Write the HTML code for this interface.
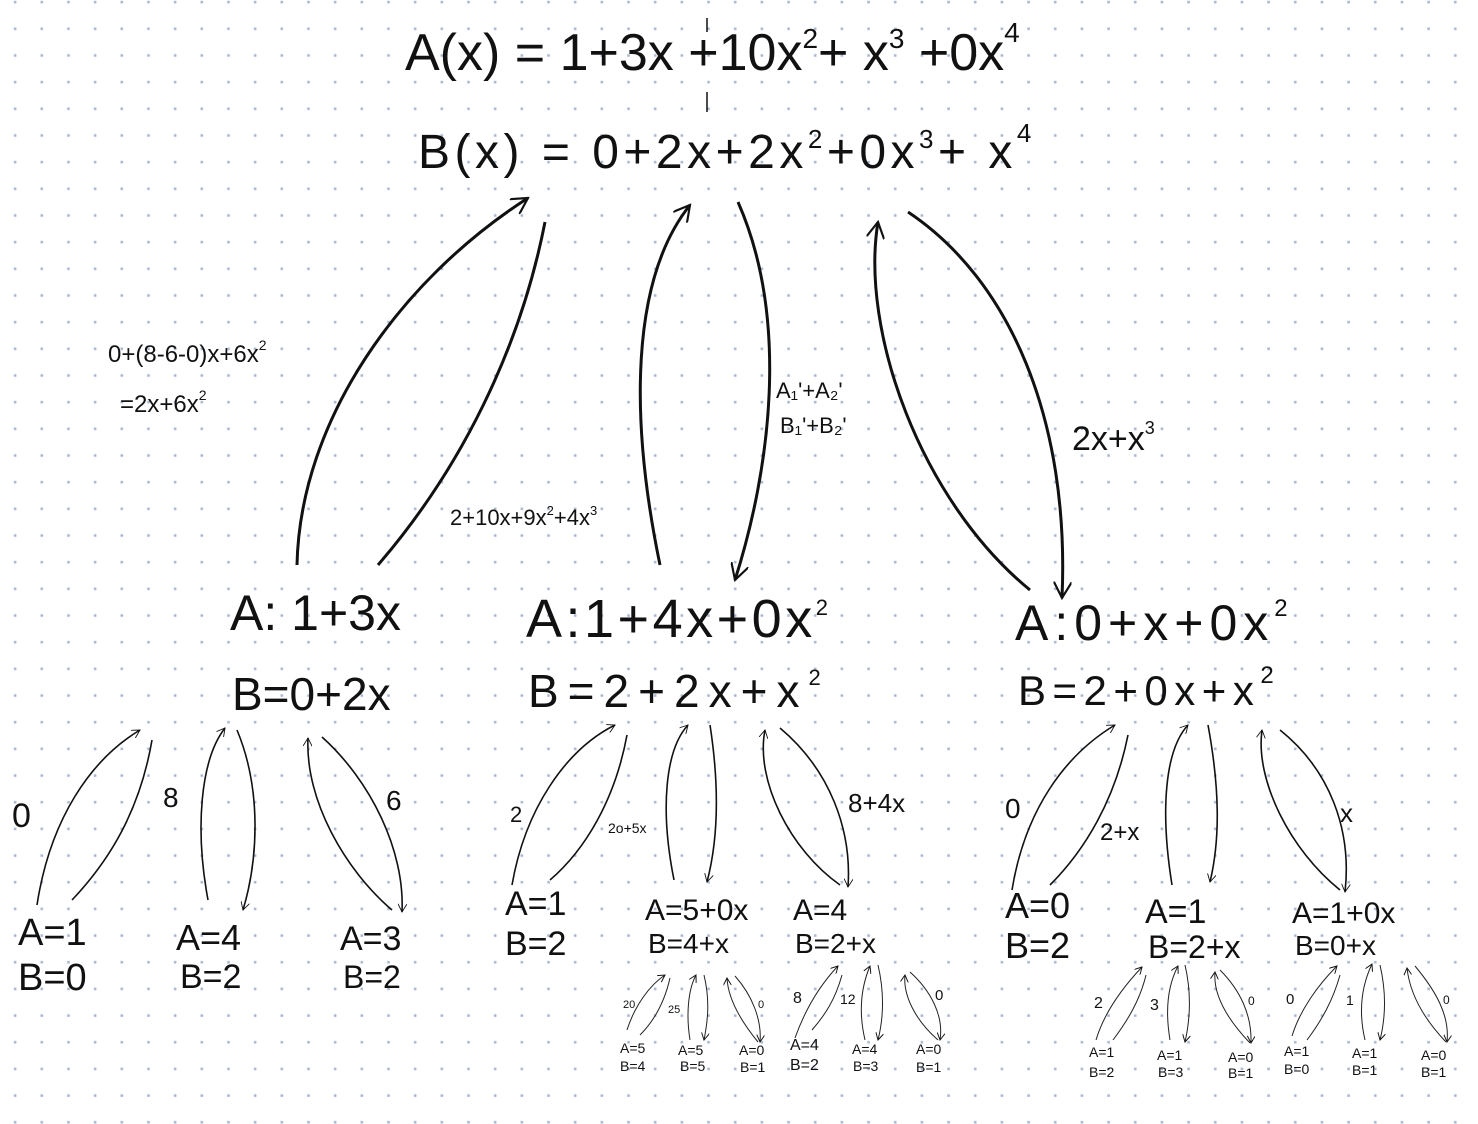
<!DOCTYPE html>
<html><head><meta charset="utf-8"><style>
html,body{margin:0;padding:0;background:#fff}
svg{display:block}
text{font-family:"Liberation Sans",sans-serif;fill:#111}
</style></head><body>
<svg width="1478" height="1124" viewBox="0 0 1478 1124" xmlns="http://www.w3.org/2000/svg">
<defs>
<pattern id="dots" x="15" y="2" width="26.67" height="26.67" patternUnits="userSpaceOnUse">
<rect x="-1.2" y="-1.2" width="2.6" height="2.6" fill="#a9b7d2"/>
<rect x="25.5" y="-1.2" width="2.6" height="2.6" fill="#a9b7d2"/>
<rect x="-1.2" y="25.5" width="2.6" height="2.6" fill="#a9b7d2"/>
<rect x="25.5" y="25.5" width="2.6" height="2.6" fill="#a9b7d2"/>
</pattern>
<marker id="ab" viewBox="0 0 10 10" refX="9" refY="5" markerWidth="9" markerHeight="9" orient="auto" markerUnits="userSpaceOnUse"><path d="M0,0 L9,5 L0,10" fill="none" stroke="#111" stroke-width="1"/></marker>
<marker id="am" viewBox="0 0 10 10" refX="9" refY="5" markerWidth="18" markerHeight="18" orient="auto" markerUnits="userSpaceOnUse"><path d="M0,0 L9,5 L0,10" fill="none" stroke="#111" stroke-width="1.2"/></marker>
<marker id="as" viewBox="0 0 10 10" refX="9" refY="5" markerWidth="8" markerHeight="8" orient="auto" markerUnits="userSpaceOnUse"><path d="M0,0 L9,5 L0,10" fill="none" stroke="#111" stroke-width="1.2"/></marker>
</defs>
<rect width="1478" height="1124" fill="url(#dots)"/>

<!-- top formulas -->
<text x="405" y="70" font-size="52">A(x) = 1+3x +10x<tspan font-size="28" dy="-22">2</tspan><tspan dy="22">+ x</tspan><tspan font-size="28" dy="-22">3</tspan><tspan dy="22"> +0x</tspan><tspan font-size="28" dy="-28">4</tspan></text>
<path d="M707,18 L707,32 M707,92 L707,112" stroke="#111" stroke-width="1.5"/>
<text x="418" y="168" font-size="48" letter-spacing="4.5">B(x) = 0+2x+2x<tspan font-size="26" dy="-20">2</tspan><tspan dy="20">+0x</tspan><tspan font-size="26" dy="-20">3</tspan><tspan dy="20">+ x</tspan><tspan font-size="26" dy="-26">4</tspan></text>

<!-- big arrows -->
<g fill="none" stroke="#111" stroke-width="3">
<path d="M297,565 C300,420 400,280 528,198" marker-end="url(#am)"/>
<path d="M545,222 C520,350 460,470 378,565"/>
<path d="M660,565 C630,420 630,280 690,205" marker-end="url(#am)"/>
<path d="M738,202 C790,320 770,470 735,580" marker-end="url(#am)"/>
<path d="M1030,590 C920,500 860,330 878,222" marker-end="url(#am)"/>
<path d="M908,212 C1010,280 1070,420 1062,598" marker-end="url(#am)"/>
</g>

<!-- labels on big arrows -->
<text x="108" y="362" font-size="24">0+(8-6-0)x+6x<tspan font-size="14" dy="-12">2</tspan></text>
<text x="120" y="412" font-size="24">=2x+6x<tspan font-size="14" dy="-12">2</tspan></text>
<text x="450" y="525" font-size="22">2+10x+9x<tspan font-size="13" dy="-10">2</tspan><tspan dy="10">+4x</tspan><tspan font-size="13" dy="-10">3</tspan></text>
<text x="776" y="398" font-size="22">A₁'+A₂'</text>
<text x="780" y="433" font-size="22">B₁'+B₂'</text>
<text x="1072" y="450" font-size="34">2x+x<tspan font-size="18" dy="-16">3</tspan></text>

<!-- middle nodes -->
<text x="230" y="630" font-size="50">A: 1+3x</text>
<text x="232" y="710" font-size="46">B=0+2x</text>
<text x="526" y="637" font-size="54" letter-spacing="3.5">A:1+4x+0x<tspan font-size="22" dy="-22">2</tspan></text>
<text x="528" y="707" font-size="46" letter-spacing="9">B=2+2x+x<tspan font-size="22" dy="-22">2</tspan></text>
<text x="1015" y="640" font-size="50" letter-spacing="6">A:0+x+0x<tspan font-size="24" dy="-24">2</tspan></text>
<text x="1018" y="705" font-size="42" letter-spacing="6.5">B=2+0x+x<tspan font-size="24" dy="-22">2</tspan></text>

<!-- level-2 arrows -->
<g fill="none" stroke="#111" stroke-width="1.6">
<path d="M37,905 C50,820 90,760 140,730" marker-end="url(#ab)"/>
<path d="M152,740 C140,810 110,860 72,900"/>
<path d="M208,900 C195,830 200,760 225,728" marker-end="url(#ab)"/>
<path d="M237,730 C262,790 258,860 243,910" marker-end="url(#ab)"/>
<path d="M392,910 C345,870 305,800 308,738" marker-end="url(#ab)"/>
<path d="M322,737 C370,780 405,850 402,912" marker-end="url(#ab)"/>

<path d="M512,885 C525,810 565,750 615,725" marker-end="url(#ab)"/>
<path d="M627,735 C615,800 585,850 550,880"/>
<path d="M674,880 C660,810 665,750 688,725" marker-end="url(#ab)"/>
<path d="M710,725 C720,790 718,840 707,882" marker-end="url(#ab)"/>
<path d="M840,885 C790,850 755,780 765,730" marker-end="url(#ab)"/>
<path d="M780,728 C830,770 852,830 848,887" marker-end="url(#ab)"/>

<path d="M1012,890 C1025,810 1065,755 1115,725" marker-end="url(#ab)"/>
<path d="M1128,735 C1115,800 1085,850 1050,885"/>
<path d="M1172,885 C1160,810 1165,750 1188,725" marker-end="url(#ab)"/>
<path d="M1208,725 C1220,790 1220,840 1210,882" marker-end="url(#ab)"/>
<path d="M1340,890 C1290,850 1255,780 1262,730" marker-end="url(#ab)"/>
<path d="M1280,730 C1330,770 1352,830 1345,892" marker-end="url(#ab)"/>
</g>

<!-- level-2 labels -->
<text x="12" y="827" font-size="34">0</text>
<text x="163" y="807" font-size="28">8</text>
<text x="386" y="810" font-size="28">6</text>
<text x="510" y="822" font-size="22">2</text>
<text x="608" y="833" font-size="14">2o+5x</text>
<text x="848" y="812" font-size="26">8+4x</text>
<text x="1005" y="818" font-size="28">0</text>
<text x="1100" y="840" font-size="24">2+x</text>
<text x="1340" y="822" font-size="26">x</text>

<!-- level-2 nodes -->
<text x="18" y="945" font-size="38">A=1</text>
<text x="18" y="990" font-size="38">B=0</text>
<text x="176" y="950" font-size="36">A=4</text>
<text x="180" y="988" font-size="34">B=2</text>
<text x="340" y="950" font-size="34">A=3</text>
<text x="343" y="988" font-size="32">B=2</text>
<text x="505" y="915" font-size="34">A=1</text>
<text x="505" y="955" font-size="34">B=2</text>
<text x="645" y="920" font-size="30">A=5+0x</text>
<text x="648" y="953" font-size="28">B=4+x</text>
<text x="793" y="920" font-size="30">A=4</text>
<text x="795" y="953" font-size="28">B=2+x</text>
<text x="1005" y="918" font-size="36">A=0</text>
<text x="1005" y="958" font-size="36">B=2</text>
<text x="1145" y="923" font-size="34">A=1</text>
<text x="1148" y="958" font-size="32">B=2+x</text>
<text x="1292" y="923" font-size="30">A=1+0x</text>
<text x="1295" y="955" font-size="28">B=0+x</text>

<!-- level-3 arrows -->
<g fill="none" stroke="#222" stroke-width="1">
<path d="M627,1030 C635,1005 650,985 665,975" marker-end="url(#as)"/>
<path d="M670,978 C665,1000 655,1020 640,1035"/>
<path d="M690,1040 C686,1015 688,990 696,975" marker-end="url(#as)"/>
<path d="M704,975 C710,1000 708,1020 704,1040" marker-end="url(#as)"/>
<path d="M758,1042 C740,1020 728,998 727,978" marker-end="url(#as)"/>
<path d="M735,976 C752,995 762,1020 760,1042" marker-end="url(#as)"/>
<path d="M795,1038 C805,1010 820,985 838,966" marker-end="url(#as)"/>
<path d="M842,975 C835,1000 825,1015 812,1030"/>
<path d="M865,1040 C858,1010 862,985 870,966" marker-end="url(#as)"/>
<path d="M878,965 C885,995 883,1020 878,1040" marker-end="url(#as)"/>
<path d="M938,1040 C915,1020 903,995 905,975" marker-end="url(#as)"/>
<path d="M910,972 C930,990 944,1015 940,1040" marker-end="url(#as)"/>

<path d="M1096,1040 C1105,1010 1125,985 1142,967" marker-end="url(#as)"/>
<path d="M1146,975 C1140,1000 1128,1020 1113,1040"/>
<path d="M1170,1040 C1165,1010 1168,985 1178,966" marker-end="url(#as)"/>
<path d="M1185,965 C1192,995 1190,1020 1185,1042" marker-end="url(#as)"/>
<path d="M1250,1043 C1228,1020 1213,995 1215,972" marker-end="url(#as)"/>
<path d="M1220,970 C1240,990 1252,1015 1251,1043" marker-end="url(#as)"/>
<path d="M1292,1036 C1300,1010 1318,985 1337,966" marker-end="url(#as)"/>
<path d="M1340,975 C1333,1000 1322,1020 1307,1040"/>
<path d="M1365,1040 C1358,1010 1362,985 1372,964" marker-end="url(#as)"/>
<path d="M1380,965 C1387,995 1385,1020 1380,1040" marker-end="url(#as)"/>
<path d="M1446,1042 C1425,1020 1410,995 1407,968" marker-end="url(#as)"/>
<path d="M1415,966 C1435,990 1450,1015 1447,1042" marker-end="url(#as)"/>
</g>

<!-- level-3 labels -->
<g font-size="11"><text x="623" y="1008">20</text><text x="668" y="1013">25</text><text x="758" y="1008">0</text></g>
<text x="793" y="1003" font-size="16">8</text><text x="840" y="1004" font-size="14">12</text><text x="935" y="1000" font-size="15">0</text>
<text x="1094" y="1008" font-size="16">2</text><text x="1150" y="1010" font-size="16">3</text><text x="1248" y="1005" font-size="12">0</text>
<text x="1286" y="1004" font-size="15">0</text><text x="1346" y="1005" font-size="14">1</text><text x="1443" y="1004" font-size="12">0</text>

<g font-size="14">
<text x="620" y="1053">A=5</text><text x="620" y="1071">B=4</text>
<text x="678" y="1055">A=5</text><text x="680" y="1071">B=5</text>
<text x="739" y="1055">A=0</text><text x="740" y="1072">B=1</text>
<text x="790" y="1050" font-size="16">A=4</text><text x="790" y="1070" font-size="16">B=2</text>
<text x="852" y="1054">A=4</text><text x="853" y="1071">B=3</text>
<text x="916" y="1054">A=0</text><text x="916" y="1072">B=1</text>
<text x="1089" y="1057">A=1</text><text x="1089" y="1077">B=2</text>
<text x="1157" y="1060">A=1</text><text x="1158" y="1077">B=3</text>
<text x="1228" y="1062">A=0</text><text x="1228" y="1078">B=1</text>
<text x="1284" y="1056">A=1</text><text x="1284" y="1074">B=0</text>
<text x="1352" y="1058">A=1</text><text x="1352" y="1075">B=1</text>
<text x="1421" y="1060">A=0</text><text x="1421" y="1077">B=1</text>
</g>
</svg>
</body></html>
